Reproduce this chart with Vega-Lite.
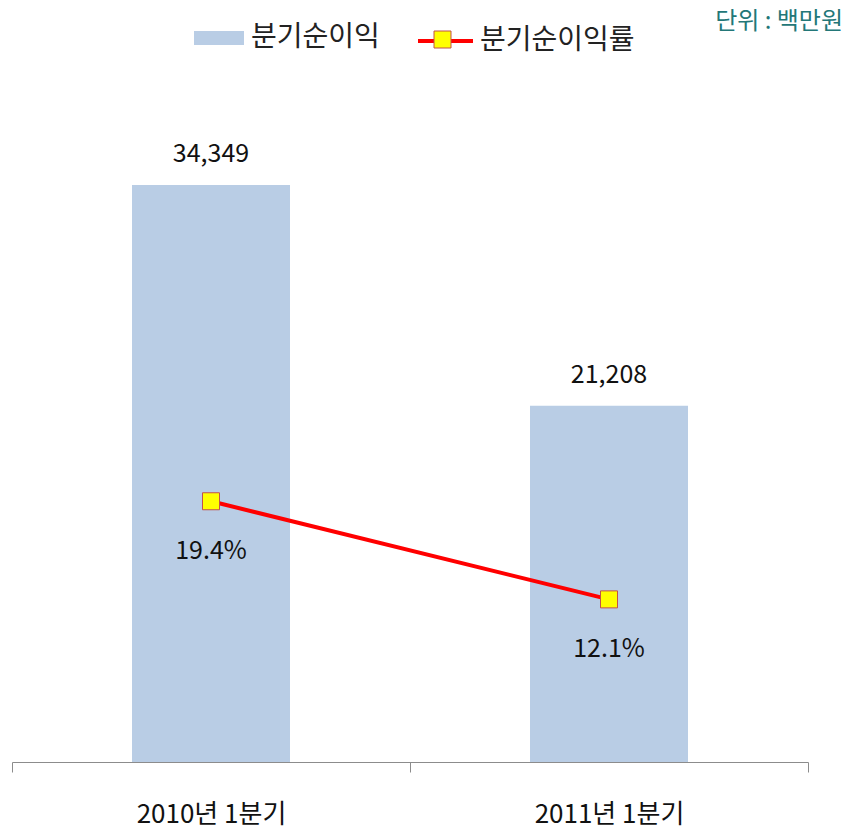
{
  "$schema": "https://vega.github.io/schema/vega-lite/v6.json",
  "width": 796,
  "height": 672,
  "autosize": {"type": "none"},
  "padding": {"left": 12, "top": 90, "right": 38, "bottom": 67},
  "background": "white",
  "title": {
    "text": "단위 : 백만원",
    "anchor": "end",
    "frame": "group",
    "orient": "top",
    "fontSize": 24,
    "fontWeight": "normal",
    "font": "Noto Sans CJK KR",
    "color": "#237778",
    "dx": 35,
    "offset": -22
  },
  "data": {
    "values": [
      {"q": "2010년 1분기", "profit": 34349, "rate": 0.194},
      {"q": "2011년 1분기", "profit": 21208, "rate": 0.121}
    ]
  },
  "encoding": {
    "x": {
      "field": "q",
      "type": "nominal",
      "sort": null,
      "scale": {"paddingInner": 0, "paddingOuter": 0},
      "axis": {
        "title": null,
        "labelAngle": 0,
        "tickBand": "extent",
        "tickSize": 10,
        "tickColor": "#8c8c8c",
        "domainColor": "#8c8c8c",
        "labelFontSize": 26,
        "labelColor": "#111111",
        "labelPadding": 29,
        "grid": false
      }
    }
  },
  "layer": [
    {
      "mark": {"type": "bar", "color": "#b9cde5", "width": {"band": 0.397}},
      "encoding": {
        "y": {"field": "profit", "type": "quantitative", "scale": {"domain": [0, 40000]}, "axis": null},
        "color": {
          "datum": "분기순이익",
          "scale": {"range": ["#b9cde5"]},
          "legend": {
            "title": null,
            "orient": "none",
            "legendX": 182,
            "legendY": -77,
            "padding": 0,
            "symbolType": "M-1,-0.28H1V0.28H-1Z",
            "symbolSize": 2500,
            "symbolStrokeWidth": 0,
            "labelFontSize": 28,
            "labelOffset": 7,
            "labelColor": "#222222"
          }
        }
      }
    },
    {
      "mark": {"type": "text", "baseline": "alphabetic", "dy": -23, "fontSize": 25, "color": "#111111"},
      "encoding": {
        "y": {"field": "profit", "type": "quantitative", "scale": {"domain": [0, 40000]}, "axis": null},
        "text": {"field": "profit", "type": "quantitative", "format": ","}
      }
    },
    {
      "mark": {"type": "line", "strokeWidth": 4},
      "encoding": {
        "y": {"field": "rate", "type": "quantitative", "scale": {"domain": [0, 0.5]}, "axis": null},
        "stroke": {
          "datum": "분기순이익률",
          "scale": {"range": ["#ff0000"]},
          "legend": {
            "title": null,
            "orient": "none",
            "legendX": 404,
            "legendY": -78.5,
            "padding": 0,
            "symbolType": "stroke",
            "symbolSize": 3025,
            "symbolStrokeWidth": 4,
            "labelFontSize": 28,
            "labelOffset": 5,
            "labelColor": "#222222"
          }
        }
      }
    },
    {
      "mark": {"type": "point", "shape": "square", "size": 289, "filled": true, "stroke": "#c0504d", "strokeWidth": 1, "opacity": 1},
      "encoding": {
        "y": {"field": "rate", "type": "quantitative", "scale": {"domain": [0, 0.5]}, "axis": null},
        "fill": {
          "datum": "marker",
          "scale": {"range": ["#ffff00"]},
          "legend": {
            "title": null,
            "orient": "none",
            "legendX": 421.5,
            "legendY": -59.5,
            "padding": 0,
            "symbolType": "square",
            "symbolSize": 289,
            "symbolStrokeColor": "#c0504d",
            "symbolStrokeWidth": 1,
            "labelExpr": "''",
            "labelFontSize": 1
          }
        }
      }
    },
    {
      "mark": {"type": "text", "baseline": "middle", "dy": 50, "fontSize": 25, "color": "#111111"},
      "encoding": {
        "y": {"field": "rate", "type": "quantitative", "scale": {"domain": [0, 0.5]}, "axis": null},
        "text": {"field": "rate", "type": "quantitative", "format": ".1%"}
      }
    }
  ],
  "resolve": {"scale": {"y": "independent"}},
  "config": {
    "font": "Noto Sans CJK KR",
    "view": {"stroke": null}
  }
}
